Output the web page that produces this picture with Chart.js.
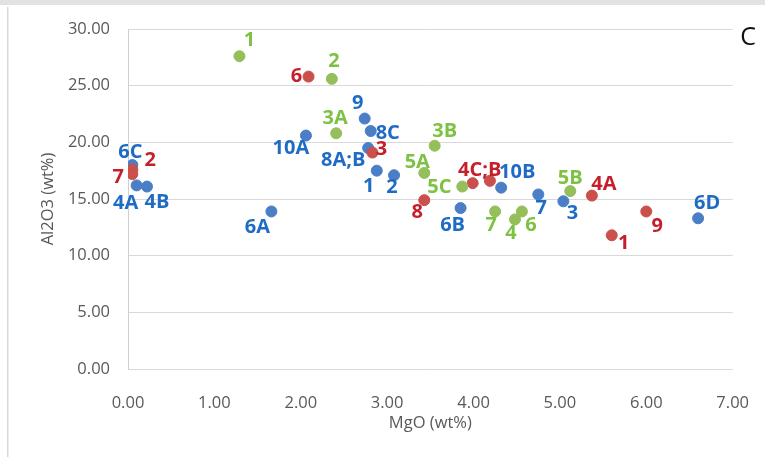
<!DOCTYPE html>
<html>
<head>
<meta charset="utf-8">
<script src="https://cdn.jsdelivr.net/npm/chart.js@4/dist/chart.umd.min.js"></script>
<style>
  html, body { margin: 0; padding: 0; background: #fff; }
  #wrap { width: 765px; height: 457px; position: relative; }
</style>
</head>
<body>
<div id="wrap"><canvas id="c" width="765" height="457"></canvas></div>
<script>
// Sample groups: MgO (wt%) vs Al2O3 (wt%)
const blueNames = ['6C', '4A', '4B', '6A', '10A', '9', '8C', '8A;B', '1', '2', '6B', '10B', '7', '3', '6D'];
const blueMgO   = [0.05, 0.10, 0.22, 1.66, 2.06, 2.74, 2.81, 2.78, 2.88, 3.08, 3.85, 4.32, 4.75, 5.04, 6.60];
const blueAl2O3 = [18.0, 16.2, 16.1, 13.9, 20.6, 22.1, 21.0, 19.5, 17.5, 17.1, 14.2, 16.0, 15.4, 14.8, 13.3];

const redNames  = ['7', '2', '6', '3', '8', '4C;B', '', '4A', '1', '9'];
const redMgO    = [0.05, 0.05, 2.09, 2.83, 3.43, 3.99, 4.19, 5.37, 5.60, 6.00];
const redAl2O3  = [17.6, 17.2, 25.8, 19.1, 14.9, 16.4, 16.6, 15.3, 11.8, 13.9];

const greenNames  = ['1', '2', '3A', '3B', '5A', '5C', '7', '4', '6', '5B'];
const greenMgO    = [1.29, 2.36, 2.41, 3.55, 3.43, 3.87, 4.25, 4.48, 4.56, 5.12];
const greenAl2O3  = [27.6, 25.6, 20.8, 19.7, 17.3, 16.1, 13.9, 13.2, 13.9, 15.7];

const xTicks = [0, 1, 2, 3, 4, 5, 6, 7];
const yTicks = [0, 5, 10, 15, 20, 25, 30];

// label placement (pixels, relative to each marker)
const blueLabelShift  = [[-2,-13],[-11,18],[10,16],[-14,16],[-15,13],[-7,-15],[17,2],[-25,12],[-8,16],[-2,12],[-8,17],[16,-15],[3,14],[9,12],[9,-15]];
const redLabelShift   = [[-14,8],[18,-14],[-12,0],[9,-3],[-7,12],[7,-13],[0,0],[12,-11],[12,8],[11,15]];
const greenLabelShift = [[10,-16],[2,-18],[-1,-15],[10,-14],[-7,-11],[-23,1],[-4,14],[-4,14],[9,14],[0,-13]];

const toPoints = (xs, ys) => xs.map((x, i) => ({ x: x, y: ys[i] }));

const pageFrame = {
  id: 'pageFrame',
  beforeDraw(chart) {
    const ctx = chart.ctx;
    ctx.save();
    ctx.fillStyle = '#ffffff';
    ctx.fillRect(0, 0, chart.width, chart.height);
    ctx.fillStyle = '#e2e2e2';
    ctx.fillRect(0, 0, chart.width, 5);
    ctx.fillStyle = '#d9d9d9';
    ctx.fillRect(7, 7, 1.5, chart.height - 7);
    ctx.restore();
  },
  afterDraw(chart) {
    const ctx = chart.ctx;
    ctx.save();
    ctx.fillStyle = '#111111';
    ctx.font = '25px "Open Sans", sans-serif';
    ctx.textAlign = 'center';
    ctx.textBaseline = 'middle';
    ctx.fillText('C', 748, 38);
    ctx.restore();
  }
};

const pointLabels = {
  id: 'pointLabels',
  afterDatasetsDraw(chart) {
    const ctx = chart.ctx;
    ctx.save();
    ctx.font = 'bold 20px "Open Sans", sans-serif';
    ctx.textAlign = 'center';
    ctx.textBaseline = 'middle';
    chart.data.datasets.forEach((ds, di) => {
      const meta = chart.getDatasetMeta(di);
      ctx.fillStyle = ds.labelColor;
      meta.data.forEach((pt, i) => {
        const txt = ds.names[i];
        if (!txt) return;
        const sh = ds.labelShift[i];
        ctx.fillText(txt, pt.x + sh[0], pt.y + sh[1]);
      });
    });
    ctx.restore();
  }
};

const tickFont = { family: '"Open Sans", sans-serif', size: 16.5 };
const titleFont = { family: '"Open Sans", sans-serif', size: 16.5 };

new Chart(document.getElementById('c'), {
  type: 'scatter',
  data: {
    datasets: [
      {
        label: 'Blue',
        names: blueNames,
        labelShift: blueLabelShift,
        labelColor: '#1f6cc4',
        data: toPoints(blueMgO, blueAl2O3),
        backgroundColor: '#4a7ec6',
        borderColor: '#4a7ec6',
        pointRadius: 5.5,
        order: 3
      },
      {
        label: 'Red',
        names: redNames,
        labelShift: redLabelShift,
        labelColor: '#c41f2b',
        data: toPoints(redMgO, redAl2O3),
        backgroundColor: '#cb4f4b',
        borderColor: '#cb4f4b',
        pointRadius: 5.5,
        order: 2
      },
      {
        label: 'Green',
        names: greenNames,
        labelShift: greenLabelShift,
        labelColor: '#7dc243',
        data: toPoints(greenMgO, greenAl2O3),
        backgroundColor: '#94bf5b',
        borderColor: '#94bf5b',
        pointRadius: 5.5,
        order: 1
      }
    ]
  },
  options: {
    responsive: false,
    animation: false,
    devicePixelRatio: 1,
    layout: { padding: { top: 29, right: 31, left: 0, bottom: 0 } },
    plugins: {
      legend: { display: false },
      tooltip: { enabled: false }
    },
    scales: {
      x: {
        type: 'linear',
        min: 0,
        max: 7,
        afterBuildTicks: s => { s.ticks = xTicks.map(v => ({ value: v })); },
        afterFit: s => { s.height = 88; },
        ticks: {
          color: '#595959',
          font: tickFont,
          padding: 16,
          callback: v => Number(v).toFixed(2)
        },
        grid: { display: false },
        border: { display: false },
        title: {
          display: true,
          text: 'MgO (wt%)',
          color: '#595959',
          font: titleFont,
          padding: { top: 0, bottom: 24 }
        }
      },
      y: {
        type: 'linear',
        min: 0,
        max: 30,
        afterBuildTicks: s => { s.ticks = yTicks.map(v => ({ value: v })); },
        afterFit: s => { s.width = 128; },
        ticks: {
          color: '#595959',
          font: tickFont,
          padding: 18,
          callback: v => Number(v).toFixed(2)
        },
        grid: { color: '#d9d9d9', lineWidth: 1, drawTicks: false },
        border: { display: true, color: '#cfcfcf', width: 1 },
        title: {
          display: true,
          text: 'Al2O3 (wt%)',
          color: '#595959',
          font: titleFont,
          padding: { top: 38, bottom: 0 }
        }
      }
    }
  },
  plugins: [pageFrame, pointLabels]
});
</script>
</body>
</html>
